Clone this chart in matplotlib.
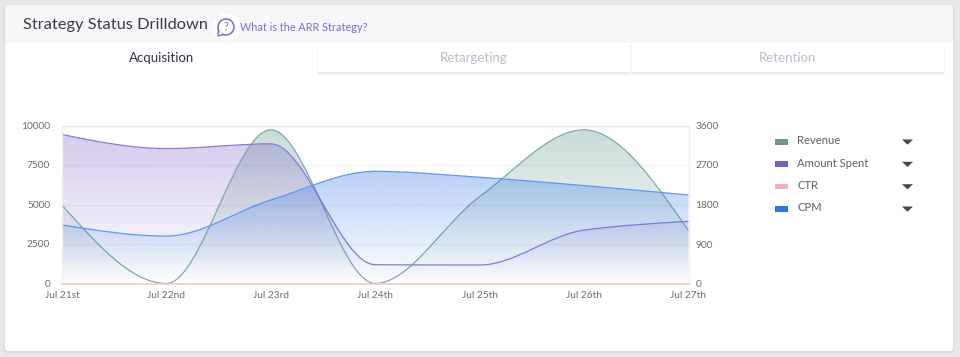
import numpy as np
import matplotlib
matplotlib.use("Agg")
import matplotlib.pyplot as plt
from matplotlib.path import Path
from matplotlib.patches import PathPatch, Rectangle, FancyBboxPatch, Circle, Polygon

plt.rcParams['font.family'] = ['Lato', 'DejaVu Sans']

# ---- data ----
dates = ["Jul 21st", "Jul 22nd", "Jul 23rd", "Jul 24th", "Jul 25th", "Jul 26th", "Jul 27th"]
revenue = [4970, 0, 9725, 0, 5500, 9725, 3340]
amount_spent = [9430, 8540, 8840, 1190, 1170, 3380, 3935]
ctr = [0, 0, 0, 0, 0, 0, 0]
cpm = [1335, 1080, 1903, 2556, 2420, 2230, 2016]
left_ticks = [0, 2500, 5000, 7500, 10000]
right_ticks = [0, 900, 1800, 2700, 3600]
legend_names = ["Revenue", "Amount Spent", "CTR", "CPM"]
legend_colors = ["#6c8f8f", "#7058c4", "#f4abba", "#1f6fe5"]
tabs = ["Acquisition", "Retargeting", "Retention"]

W, H = 960, 357
fig = plt.figure(figsize=(W / 100, H / 100), dpi=100, facecolor="#e8e8e8")

# ---- page furniture in pixel coordinates ----
bg = fig.add_axes([0, 0, 1, 1], zorder=0)
bg.set_xlim(0, W); bg.set_ylim(H, 0); bg.axis("off")

for i in range(5, 0, -1):
    bg.add_patch(FancyBboxPatch((5 - i * .4, 5), 948 + i * .8, 346 + i * .6,
                                boxstyle="round,pad=0,rounding_size=3", fc="#000000", ec="none", alpha=0.012))
bg.add_patch(FancyBboxPatch((5, 5), 948, 346, boxstyle="round,pad=0,rounding_size=3", fc="white", ec="none"))
bg.add_patch(FancyBboxPatch((5, 5), 948, 37.5, boxstyle="round,pad=0,rounding_size=3", fc="#f7f7f8", ec="none"))
bg.add_patch(Rectangle((5, 30), 948, 12.5, fc="#f7f7f8", ec="none"))

bg.text(23, 25.5, "Strategy Status Drilldown", fontsize=11.8, color="#373c4d", va="center", ha="left")
bg.add_patch(Circle((226, 27), 13.5, fc="white", ec="none"))
bg.add_patch(Polygon([[218.5, 29], [218, 36], [224, 34.5]], closed=True, fc="white", ec="#7f68cf", lw=1.0))
bg.add_patch(Circle((226, 27), 8, fc="white", ec="#7f68cf", lw=1.1))
bg.add_patch(Polygon([[219.5, 30], [219.2, 34.6], [223, 33.5]], closed=True, fc="white", ec="none"))
bg.text(226, 27, "?", fontsize=8, color="#7f68cf", ha="center", va="center")
bg.text(240, 27.5, "What is the ARR Strategy?", fontsize=7.8, color="#7f6cd2", va="center", ha="left")

for x0, w in [(318, 312), (632, 312)]:
    for i in range(5, 0, -1):
        bg.add_patch(Rectangle((x0 - i * .15, 45), w + i * .3, 27 + i * .7, fc="#000000", ec="none", alpha=0.018))
    bg.add_patch(Rectangle((x0, 44), w, 28, fc="white", ec="none"))
bg.text(161.5, 57.5, tabs[0], fontsize=9.5, color="#2f3445", ha="center", va="center")
bg.text(474, 57.5, tabs[1], fontsize=9.5, color="#b9bdcc", ha="center", va="center")
bg.text(787, 57.5, tabs[2], fontsize=9.5, color="#b9bdcc", ha="center", va="center")

for name, col, y in zip(legend_names, legend_colors, [141.5, 163.8, 186.2, 208.5]):
    bg.add_patch(Rectangle((775, y - 2.5), 13, 5.5, fc=col, ec="none", alpha=0.95))
    bg.text(797, y - 0.7, name, fontsize=8.1, color="#5d6068", va="center", ha="left")
    bg.add_patch(Polygon([[902, y - 2], [913, y - 2], [907.5, y + 3.2]], closed=True, fc="#45474f", ec="none"))

# ---- chart ----
L, R, T, B = 62, 688.5, 125.5, 283.5
ax = fig.add_axes([L / W, 1 - B / H, (R - L) / W, (B - T) / H], zorder=2)
ax2 = ax.twinx()
ax2.set_zorder(3)
for a in (ax, ax2):
    a.patch.set_visible(False)
    for s in a.spines.values():
        s.set_visible(False)


def smooth_path(ys, close=False):
    """Monotone cubic Bezier through the data points (spline look of the chart)."""
    ys = np.asarray(ys, float)
    xs = np.arange(len(ys), dtype=float)
    d = np.diff(ys)
    m = np.zeros(len(ys))
    for i in range(1, len(ys) - 1):
        if d[i - 1] * d[i] > 0:
            m[i] = 2 * d[i - 1] * d[i] / (d[i - 1] + d[i])
    m[0] = (3 * d[0] - m[1]) / 2
    m[-1] = (3 * d[-1] - m[-2]) / 2
    verts = [(xs[0], ys[0])]
    codes = [Path.MOVETO]
    for i in range(len(ys) - 1):
        verts += [(xs[i] + 1 / 3, ys[i] + m[i] / 3), (xs[i + 1] - 1 / 3, ys[i + 1] - m[i + 1] / 3), (xs[i + 1], ys[i + 1])]
        codes += [Path.CURVE4] * 3
    if close:
        verts += [(xs[-1], 0), (xs[0], 0), (xs[0], ys[0])]
        codes += [Path.LINETO, Path.LINETO, Path.CLOSEPOLY]
    return Path(verts, codes)


def area(a, ys, line_col, fill_col, top_alpha, z):
    rgb = matplotlib.colors.to_rgb(fill_col)
    grad = np.zeros((256, 1, 4))
    grad[..., :3] = rgb
    grad[:, 0, 3] = np.linspace(0, top_alpha, 256)
    fill = PathPatch(smooth_path(ys, close=True), fc="none", ec="none", transform=a.transData)
    a.add_patch(fill)
    im = a.imshow(grad, origin="lower", aspect="auto", extent=[0, len(ys) - 1, 0, max(ys)],
                  interpolation="bilinear", zorder=z)
    im.set_clip_path(fill)
    a.add_patch(PathPatch(smooth_path(ys), fc="none", ec=line_col, lw=0.9, zorder=z + 0.5,
                          transform=a.transData, clip_on=False))


area(ax, revenue, "#7dabaa", "#6fa298", 0.38, 1)
area(ax, amount_spent, "#8a7ad8", "#7350c4", 0.30, 1.2)
ax2.plot(range(len(ctr)), ctr, color="#f6c3cd", lw=1.1, zorder=3, clip_on=False)
area(ax2, cpm, "#5f97f5", "#2f74ea", 0.34, 2)

ax.set_xlim(0, len(dates) - 1)
ax.set_ylim(0, 10000)
ax2.set_ylim(0, 3600)
ax.set_xticks(range(len(dates)))
ax.set_xticklabels(dates)
ax.set_yticks(left_ticks)
ax2.set_yticks(right_ticks)
ax.tick_params(axis="both", length=0, labelsize=7.3, labelcolor="#6a6c72")
ax.tick_params(axis="y", pad=8.5)
ax.tick_params(axis="x", pad=5.5)
ax2.tick_params(axis="y", length=0, labelsize=7.3, labelcolor="#6a6c72", pad=5)
ax2.tick_params(axis="x", length=0, labelbottom=False, labeltop=False)
ax2.set_axisbelow(False)
ax2.grid(True, axis="both", color="#5a5a78", alpha=0.07, lw=1)
for pos in ("top", "left", "right"):
    ax2.spines[pos].set_visible(True)
    ax2.spines[pos].set_color("#f0f0f0")
    ax2.spines[pos].set_linewidth(1)

fig.savefig("out.png", dpi=100, facecolor=fig.get_facecolor())
